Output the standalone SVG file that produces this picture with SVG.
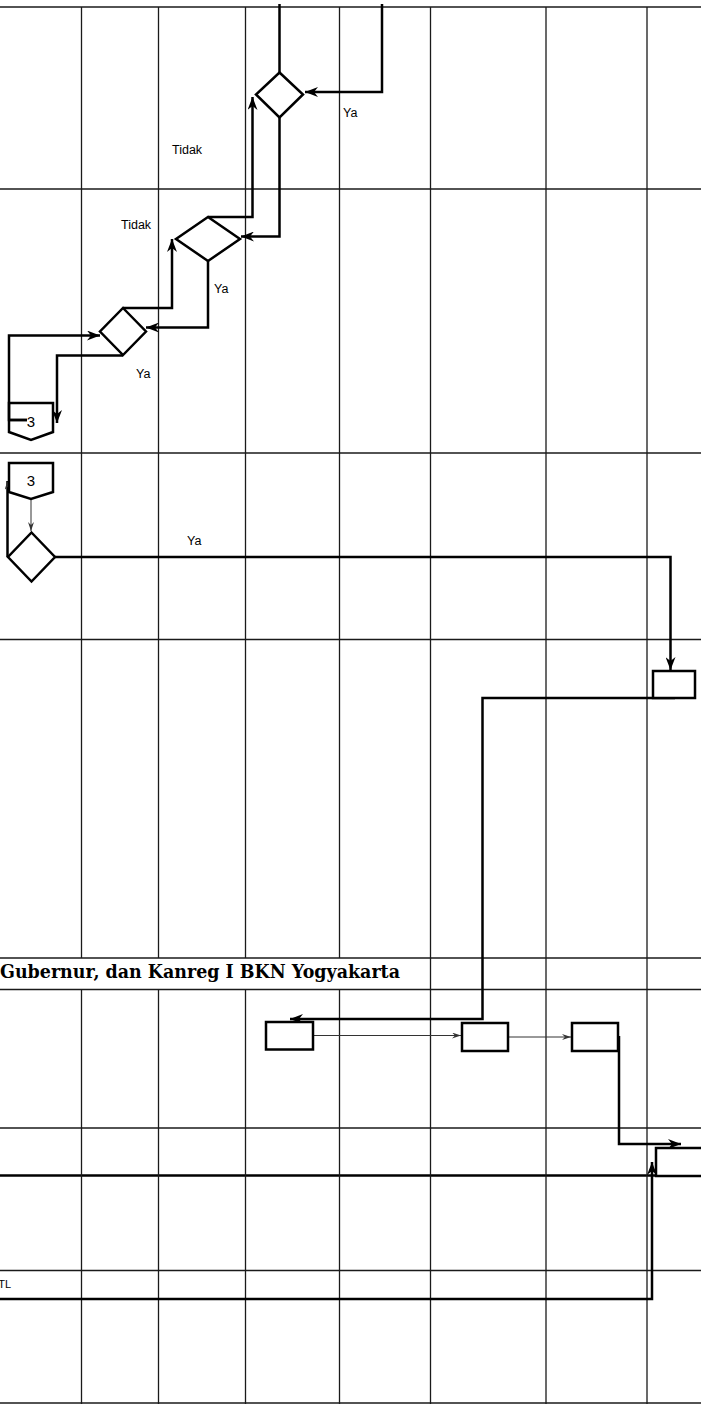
<svg xmlns="http://www.w3.org/2000/svg" width="701" height="1404" viewBox="0 0 701 1404">
<style>
.grid{stroke:#1a1a1a;stroke-width:1.3;fill:none}
.gridb{stroke:#000;stroke-width:2.4;fill:none}
.conn{stroke:#000;stroke-width:2.5;fill:none}
.thin{stroke:#333;stroke-width:1;fill:none}
.shape{stroke:#000;stroke-width:2.5;fill:#fff}
.lbl{font-family:"Liberation Sans",Arial,sans-serif;font-size:12.5px;fill:#000}
.num{font-family:"Liberation Sans",Arial,sans-serif;font-size:15px;fill:#000;text-anchor:middle}
.title{font-family:"DejaVu Serif","Liberation Serif",serif;font-weight:bold;font-size:19px;fill:#000}
</style>
<defs>
<marker id="arr" markerUnits="userSpaceOnUse" markerWidth="14" markerHeight="10" refX="13" refY="5" orient="auto">
<path d="M0,0 L13,5 L0,10 L4,5 z" fill="#000"/>
</marker>
<marker id="arrs" markerUnits="userSpaceOnUse" markerWidth="10" markerHeight="6" refX="9" refY="3" orient="auto">
<path d="M0,0 L9,3 L0,6 L3,3 z" fill="#333"/>
</marker>
</defs>
<rect x="0" y="0" width="701" height="1404" fill="#fff"/>
<g id="grid">
<line class="grid" x1="0" y1="7" x2="701" y2="7"/>
<line class="grid" x1="0" y1="189" x2="701" y2="189"/>
<line class="grid" x1="0" y1="453" x2="701" y2="453"/>
<line class="grid" x1="0" y1="639.5" x2="701" y2="639.5"/>
<line class="grid" x1="0" y1="958" x2="701" y2="958"/>
<line class="grid" x1="0" y1="989.5" x2="701" y2="989.5"/>
<line class="grid" x1="0" y1="1128" x2="701" y2="1128"/>
<line class="gridb" x1="0" y1="1175.5" x2="701" y2="1175.5"/>
<line class="grid" x1="0" y1="1270.5" x2="701" y2="1270.5"/>
<line class="grid" x1="0" y1="1403" x2="701" y2="1403"/>
<path class="grid" d="M81.5,7 V958 M81.5,989.5 V1404 M158.5,7 V958 M158.5,989.5 V1404 M245.5,7 V958 M245.5,989.5 V1404 M339.5,7 V958 M339.5,989.5 V1404 M430.5,7 V1404 M546,7 V1404 M647,7 V1404"/>
</g>
<g id="connectors">
<path class="conn" d="M279.5,4 V72.5"/>
<path class="conn" d="M382,4 V92 H305" marker-end="url(#arr)"/>
<path class="conn" d="M279.5,118 V236.5 H241" marker-end="url(#arr)"/>
<path class="conn" d="M208,217 H252.5 V97" marker-end="url(#arr)"/>
<path class="conn" d="M123,308 H172 V239" marker-end="url(#arr)"/>
<path class="conn" d="M208,261 V327.5 H146" marker-end="url(#arr)"/>
<path class="conn" d="M27,420 H9 V335.5 H100" marker-end="url(#arr)"/>
<path class="conn" d="M123,355.5 H57 V423" marker-end="url(#arr)"/>
<path class="thin" d="M31,499 V531" marker-end="url(#arrs)"/>
<path class="conn" d="M7.5,557 V481" marker-end="url(#arrs)"/>
<path class="conn" d="M55,557 H670.5 V670" marker-end="url(#arr)"/>
<path class="conn" d="M675,698 H482.5 V1019 H290" marker-end="url(#arr)"/>
<path class="thin" d="M313,1035.5 H461" marker-end="url(#arrs)"/>
<path class="thin" d="M508,1037 H571" marker-end="url(#arrs)"/>
<path class="conn" d="M619,1036 V1144 H681" marker-end="url(#arr)"/>
<path class="conn" d="M0,1299 H652 V1162" marker-end="url(#arr)"/>
</g>
<g id="d1"><polygon class="shape" points="279.5,72.5 303,94.5 279.5,117.5 256,94.5"/></g>
<g id="d2"><polygon class="shape" points="208,217 240,239 208,261 176,239"/></g>
<g id="d3"><polygon class="shape" points="123,308 146,331.5 123,355 100,331.5"/></g>
<g id="c3a"><polygon class="shape" points="9,403 53,403 53,432 31,440 9,432" style="fill:none"/><text class="num" x="31" y="427">3</text><path class="conn" d="M27,420 H9"/></g>
<g id="c3b"><polygon class="shape" points="9,463 53,463 53,492 31,499 9,492"/><text class="num" x="31" y="486">3</text></g>
<g id="d4"><polygon class="shape" points="31.5,532.5 55,557 31.5,581.5 8,557"/></g>
<g id="b1"><rect class="shape" x="653" y="671" width="42" height="27"/></g>
<g id="b2"><rect class="shape" x="266" y="1022" width="47" height="27.5"/></g>
<g id="b3"><rect class="shape" x="462" y="1023" width="46" height="28"/></g>
<g id="b4"><rect class="shape" x="572" y="1023" width="46" height="28"/></g>
<g id="b5"><rect class="shape" x="656" y="1148" width="60" height="28"/></g>
<g id="labels">
<text class="lbl" x="172" y="154">Tidak</text>
<text class="lbl" x="343" y="117">Ya</text>
<text class="lbl" x="121" y="229">Tidak</text>
<text class="lbl" x="214" y="293">Ya</text>
<text class="lbl" x="136" y="378">Ya</text>
<text class="lbl" x="187" y="545">Ya</text>
<text class="title" x="0" y="978" textLength="400" lengthAdjust="spacingAndGlyphs">Gubernur, dan Kanreg I BKN Yogyakarta</text>
<text class="lbl" x="11" y="1288" text-anchor="end" style="font-size:11px">TL</text>
</g>
</svg>
